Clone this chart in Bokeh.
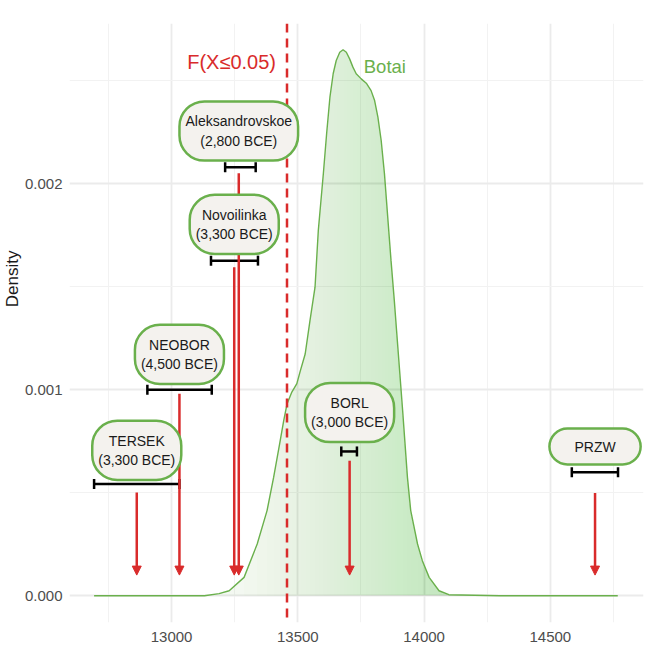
from bokeh.plotting import figure
from bokeh.models import (Range1d, FixedTicker, NumeralTickFormatter, ColumnDataSource,
                          Whisker, TeeHead, Arrow, NormalHead, Span, Label, Title)
from bokeh.embed import file_html
from bokeh.resources import INLINE

# ---- Botai density curve ----
dens_x = [12693, 12900, 13130, 13188, 13228, 13287, 13339, 13378, 13404, 13428, 13444,
          13457, 13475, 13496, 13510, 13529, 13548, 13568, 13581, 13601, 13614, 13627,
          13640, 13652, 13666, 13679, 13692, 13705, 13718, 13731, 13751, 13771, 13790,
          13804, 13817, 13830, 13843, 13856, 13869, 13882, 13891, 13915, 13934, 13947,
          13974, 13993, 14020, 14059, 14098, 14300, 14767]
dens_y = [0, 0, 0, 0.00001, 0.000024, 0.000089, 0.000251, 0.000413, 0.000574, 0.000738,
          0.00085, 0.00093, 0.000985, 0.001029, 0.001092, 0.001173, 0.001335, 0.001497,
          0.001772, 0.002049, 0.002243, 0.002419, 0.002534, 0.002597, 0.002637, 0.002649,
          0.002637, 0.002605, 0.002565, 0.002533, 0.002508, 0.002487, 0.002451, 0.002403,
          0.002322, 0.002209, 0.002047, 0.001836, 0.001626, 0.001432, 0.001286, 0.000898,
          0.000574, 0.000413, 0.000251, 0.00017, 0.000089, 0.000024, 0.000005, 0, 0]

# ---- sites ----
sites = ["TERSEK", "NEOBOR", "Novoilinka", "Aleksandrovskoe", "BORL", "PRZW"]
site_dates = ["3,300 BCE", "4,500 BCE", "3,300 BCE", "2,800 BCE", "3,000 BCE", ""]
site_mid = [12862, 13031, 13248, 13266, 13705, 14677]
site_lo = [12693, 12904, 13156, 13212, 13672, 14585]
site_hi = [13031, 13159, 13342, 13333, 13734, 14768]
bar_y = [0.000542, 0.001, 0.001626, 0.002079, 0.0007, 0.000599]
arrow_top = [0.000501, 0.00098, 0.001594, 0.00205, 0.000655, 0.000499]
arrow_tip = [0.0001, 0.0001, 0.0001, 0.0001, 0.0001, 0.0001]
label_y = [0.000705, 0.001171, 0.001802, 0.002255, 0.000889, 0.000724]

threshold = 13457
threshold_label = "F(X≤0.05)"
series_label = "Botai"
y_title = "Density"

x_ticks = [13000, 13500, 14000, 14500]
x_minor = [12750, 13250, 13750, 14250, 14750]
y_ticks = [0, 0.001, 0.002]
y_minor = [0.0005, 0.0015, 0.0025]

GREEN = "#6ab04c"
RED = "#d92b2b"
FONT = "Liberation Sans"

p = figure(width=653, height=649,
           x_range=Range1d(12595.6, 14868.9), y_range=Range1d(-0.00013, 0.0027767),
           output_backend="svg", toolbar_location=None,
           min_border_left=64, min_border_right=10, min_border_top=23, min_border_bottom=27)
p.outline_line_color = None
p.background_fill_color = "white"

p.xaxis.ticker = FixedTicker(ticks=x_ticks, minor_ticks=x_minor)
p.yaxis.ticker = FixedTicker(ticks=y_ticks, minor_ticks=y_minor)
p.yaxis.formatter = NumeralTickFormatter(format="0.000")
for ax in (p.xaxis[0], p.yaxis[0]):
    ax.axis_line_color = None
    ax.major_tick_line_color = None
    ax.minor_tick_line_color = None
    ax.major_label_text_font = FONT
    ax.major_label_text_font_size = "15px"
    ax.major_label_text_color = "#4d4d4d"
p.xaxis.major_label_standoff = 3
p.yaxis.major_label_standoff = 1

p.add_layout(Title(text=y_title, align="right", offset=227, standoff=0,
                   text_font=FONT, text_font_size="17px", text_font_style="normal",
                   text_color="#1a1a1a"), "left")

for g in (p.xgrid[0], p.ygrid[0]):
    g.grid_line_color = "#ebebeb"
    g.grid_line_width = 1.8
    g.minor_grid_line_color = "#f2f2f2"
    g.minor_grid_line_width = 1.1

# gradient fill: stacked layers, cumulative opacity rising to the right
n = len(dens_x)
prev = 0.0
for k in range(n - 1):
    A = min(max(0.08 + 0.22 * (dens_x[k] - 13200) / 850.0, 0.08), 0.30)
    if A <= prev + 1e-6:
        continue
    a = 1 - (1 - A) / (1 - prev)
    p.varea(x=dens_x[k:], y1=[0] * (n - k), y2=dens_y[k:], fill_color="#74b25a", fill_alpha=a)
    prev = A
p.line(dens_x, dens_y, line_color=GREEN, line_width=1.4)

span = Span(location=threshold, dimension="height", line_color=RED, line_width=2.5,
            line_dash="9 6", level="annotation")
p.add_layout(span)

wsrc = ColumnDataSource(dict(base=bar_y, lower=site_lo, upper=site_hi))
wh = Whisker(source=wsrc, base="base", lower="lower", upper="upper", dimension="width",
             line_color="black", line_width=2.5, level="annotation",
             lower_head=TeeHead(size=10, line_width=2.5, line_color="black"),
             upper_head=TeeHead(size=10, line_width=2.5, line_color="black"))
p.add_layout(wh)

asrc = ColumnDataSource(dict(x0=site_mid, y0=arrow_top, x1=site_mid, y1=arrow_tip))
arr = Arrow(source=asrc, x_start="x0", y_start="y0", x_end="x1", y_end="y1",
            line_color=RED, line_width=2.5, level="annotation",
            end=NormalHead(size=9, fill_color=RED, line_color=RED, line_width=1))
p.add_layout(arr)

for i in range(len(sites)):
    txt = sites[i] + ("\n(" + site_dates[i] + ")" if site_dates[i] else "")
    if site_dates[i]:
        pad = dict(left=6, right=6, top=12, bottom=12)
        rad = 25
    else:
        pad = dict(left=25, right=25, top=10, bottom=10)
        rad = 18
    lab = Label(x=site_mid[i], y=label_y[i], text=txt, text_align="center",
                text_baseline="middle", text_font=FONT, text_font_size="14px",
                text_color="#1a1a1a", text_line_height=1.2,
                background_fill_color="#f4f2ee", border_line_color=GREEN,
                border_line_width=2.5, border_radius=rad, padding=pad, level="annotation")
    p.add_layout(lab)

p.add_layout(Label(x=threshold, y=0.002589, x_offset=-11, text=threshold_label,
                   text_align="right", text_baseline="middle", text_font=FONT,
                   text_font_size="20px", text_color=RED))
p.add_layout(Label(x=13761, y=0.002569, text=series_label, text_align="left",
                   text_baseline="middle", text_font=FONT, text_font_size="18.5px",
                   text_color=GREEN))

open("out.html", "w").write(file_html(p, INLINE))
